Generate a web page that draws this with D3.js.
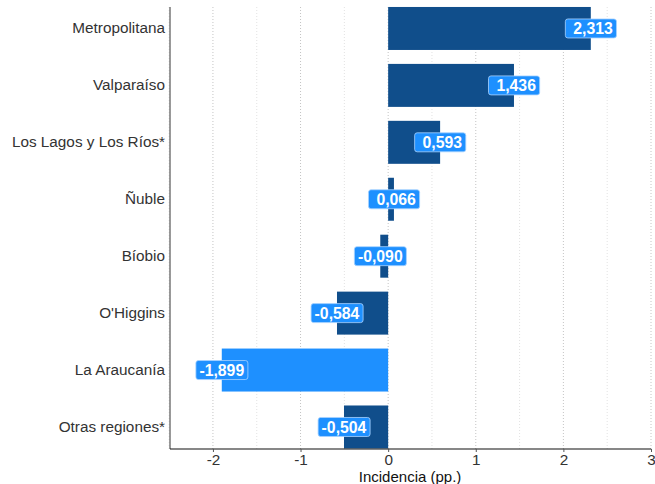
<!DOCTYPE html>
<html><head><meta charset="utf-8">
<script src="https://cdn.jsdelivr.net/npm/d3@7"></script>
<style>body{margin:0;background:#fff}svg{display:block}text{font-family:"Liberation Sans",Arial,sans-serif}</style>
</head><body>
<svg id="c" width="655" height="484"></svg>
<script>
const regions = ["Metropolitana","Valparaíso","Los Lagos y Los Ríos*","Ñuble","Bíobio","O'Higgins","La Araucanía","Otras regiones*"];
const values = [2.313,1.436,0.593,0.066,-0.090,-0.584,-1.899,-0.504];
const highlight = ["La Araucanía"];
const xTicks = [-2,-1,0,1,2,3];
const xMinor = [-2.5,-1.5,-0.5,0.5,1.5,2.5];
const xTitle = "Incidencia (pp.)";

const svg = d3.select("#c");
const left = 170, right = 651, axisY = 449, topY = 7;
const x = d3.scaleLinear().domain([-2.49, 3]).range([left, right]);
const step = 56.93;
const y = d3.scaleBand().domain(regions).range([0, step*regions.length]).paddingInner(0.245).paddingOuter(0.1225);

const data = regions.map((r,i)=>({r, v: values[i]}));
const fmt = v => { const s = d3.format(".3f")(Math.abs(v)).replace(".", ","); return (v<0?"-":"\u00a0")+s; };

// grid
svg.append("g").selectAll("line").data(xMinor).join("line")
  .attr("x1",d=>x(d)).attr("x2",d=>x(d)).attr("y1",topY).attr("y2",axisY)
  .attr("stroke","#e2e2e2").attr("stroke-width",1).attr("stroke-dasharray","1,2");
svg.append("g").selectAll("line").data(xTicks).join("line")
  .attr("x1",d=>x(d)).attr("x2",d=>x(d)).attr("y1",topY).attr("y2",axisY)
  .attr("stroke","#c4c4c4").attr("stroke-width",1).attr("stroke-dasharray","1,2");

// bars
svg.append("g").selectAll("rect").data(data).join("rect")
  .attr("x",d=>x(Math.min(0,d.v))).attr("width",d=>Math.abs(x(d.v)-x(0)))
  .attr("y",d=>y(d.r)).attr("height",y.bandwidth())
  .attr("fill",d=>highlight.includes(d.r)?"#1E90FF":"#104E8B");

// axes
svg.append("line").attr("x1",left).attr("x2",left).attr("y1",topY).attr("y2",axisY).attr("stroke","#555").attr("stroke-width",1.2);
svg.append("line").attr("x1",left).attr("x2",right).attr("y1",axisY).attr("y2",axisY).attr("stroke","#111").attr("stroke-width",1.2);
const xa = svg.append("g").attr("transform",`translate(0,${axisY})`)
  .call(d3.axisBottom(x).tickValues(xTicks).tickSize(3).tickPadding(2).tickFormat(d=>d<0?"-"+Math.abs(d):d));
xa.select(".domain").remove();
xa.selectAll("line").attr("stroke","#555");
xa.selectAll("text").attr("font-size","15.3px").attr("fill","#333").attr("font-family","Liberation Sans, Arial, sans-serif");

const ya = svg.append("g").attr("transform",`translate(${left},0)`)
  .call(d3.axisLeft(y).tickSize(0).tickPadding(5));
ya.select(".domain").remove();
ya.selectAll("text").attr("font-size","15.3px").attr("fill","#333").attr("font-family","Liberation Sans, Arial, sans-serif");

svg.append("text").attr("x",x(0.25)).attr("y",482).attr("text-anchor","middle")
  .attr("font-size","15px").attr("fill","#111").text(xTitle);

// labels
const lg = svg.append("g").selectAll("g").data(data).join("g")
  .attr("transform",d=>`translate(${x(d.v)},${y(d.r)+y.bandwidth()/2})`);
const t = lg.append("text").attr("text-anchor","middle").attr("dy","0.36em")
  .attr("font-size","15.8px").attr("font-weight","bold").attr("fill","#fff")
  .style("white-space","pre").text(d=>fmt(d.v));
lg.each(function(){
  const g = d3.select(this); const b = g.select("text").node().getBBox();
  g.insert("rect","text").attr("x",b.x-3.5).attr("width",b.width+7)
   .attr("y",-9.5).attr("height",19).attr("rx",2.5)
   .attr("fill","#1E90FF").attr("stroke","#a9d3ff").attr("stroke-width",0.8);
});
</script>
</body></html>
